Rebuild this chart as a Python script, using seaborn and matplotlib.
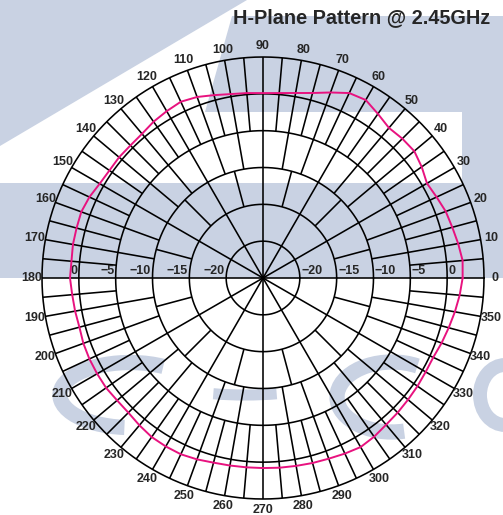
import numpy as np
import pandas as pd
import matplotlib
matplotlib.use('Agg')
import matplotlib.pyplot as plt
import seaborn as sns
from matplotlib.patches import Polygon, Arc

# H-plane pattern @ 2.45 GHz, gain in dB read every 5 degrees
ANGLES = list(range(0, 360, 5))
GAIN_DB = [2.1, 2.2, 1.9, 1.6, 1.4, 1.0, 0.7, 1.3, 1.8, 1.75, 1.6, 2.2,    # 0-55
           2.9, 2.7, 1.8, 1.0, 0.5, 0.2, 0.1, 0.2, 0.35, 0.7, 1.15, 1.4,   # 60-115
           1.15, 0.9, 0.55, 0.45, 0.5, 0.45, 0.6, 1.0, 1.25, 1.2, 1.2, 1.1,  # 120-175
           1.2, 1.0, 0.9, 0.8, 0.95, 1.0, 1.0, 1.0, 0.85, 0.85, 1.1, 1.35,  # 180-235
           1.4, 1.4, 1.2, 0.95, 0.85, 0.8, 0.8, 0.85, 0.9, 1.0, 1.1, 1.3,   # 240-295
           1.5, 1.3, 1.0, 0.85, 0.7, 0.6, 0.5, 0.5, 0.8, 1.1, 1.45, 1.8]    # 300-355

RING_DB = [-20, -15, -10, -5, 0, 5]
RING_LABELS = ['\u221220', '\u221215', '\u221210', '\u22125', '0']
ANGLE_TICKS = list(range(0, 360, 10))
TITLE = 'H-Plane Pattern @ 2.45GHz'

# (inner dB, outer dB, spoke step in degrees)
SPOKE_BANDS = [(-25, -15, 30), (-15, -10, 15), (-10, -5, 10), (-5, 5, 5)]

R_MIN, R_MAX = -25, 5
W, H = 503, 515
CX, CY, RAD = 263, 278, 221
BLUE = '#c9d2e3'
PINK = '#e8127f'
LW = 1.15

sns.set_style('white')
plt.rcParams['font.family'] = ['Liberation Sans', 'DejaVu Sans']


def px(x, y):
    return (x / W, 1 - y / H)


def draw_watermark(fig):
    """light blue logo shapes behind the chart"""
    polys = [
        [(0, 0), (247, 0), (0, 146)],
        [(232, 16), (503, 16), (503, 183), (462, 183), (462, 112), (205, 112)],
        [(0, 183), (503, 183), (503, 278), (0, 278)],
    ]
    for pts in polys:
        fig.patches.append(Polygon([px(*p) for p in pts], closed=True, transform=fig.transFigure,
                                   facecolor=BLUE, edgecolor='none', zorder=-1))
    arcs = [((130, 395), 140, 65, 40, 260, 11), ((392, 397), 110, 70, 50, 290, 11),
            ((245, 388), 110, 14, 190, 350, 8), ((505, 395), 50, 60, 90, 270, 10)]
    for (x, y), w, h, t1, t2, lw in arcs:
        fig.patches.append(Arc(px(x, y), w / W, h / H, theta1=t1, theta2=t2,
                               transform=fig.transFigure, color=BLUE, lw=lw, zorder=-1))


fig = plt.figure(figsize=(W / 100, H / 100), dpi=100)
fig.patch.set_facecolor('white')
draw_watermark(fig)

ax = fig.add_axes([(CX - RAD) / W, (H - CY - RAD) / H, 2 * RAD / W, 2 * RAD / H], projection='polar')
ax.patch.set_alpha(0)
ax.set_ylim(R_MIN, R_MAX)
ax.grid(False)
ax.spines['polar'].set_visible(False)

# rings
theta = np.linspace(0, 2 * np.pi, 721)
for r in RING_DB:
    ax.plot(theta, np.full_like(theta, r), color='black', lw=LW, clip_on=False)

# spokes
for r0, r1, step in SPOKE_BANDS:
    for a in range(0, 360, step):
        t = np.deg2rad(a)
        ax.plot([t, t], [r0, r1], color='black', lw=LW, solid_capstyle='butt', clip_on=False)

# pattern
df = pd.DataFrame({'theta': np.deg2rad(ANGLES + [ANGLES[0]]), 'gain': GAIN_DB + [GAIN_DB[0]]})
sns.lineplot(data=df, x='theta', y='gain', sort=False, estimator=None, ax=ax,
             color=PINK, lw=1.4, zorder=5)
ax.set_xlabel('')
ax.set_ylabel('')
ax.set_xticks([])
ax.set_yticks([])
ax.set_ylim(R_MIN, R_MAX)

# angle labels
for a in ANGLE_TICKS:
    ax.text(np.deg2rad(a), 6.45, str(a), ha='center', va='center', fontsize=9,
            fontweight='bold', clip_on=False)

# radial labels along the 0-180 line
for r, lab in zip(RING_DB[:-1], RING_LABELS):
    ax.annotate(lab, (np.pi, r), xytext=(-1, 1), textcoords='offset points',
                ha='right', va='bottom', fontsize=9, fontweight='bold')
    ax.annotate(lab, (0, r), xytext=(1, 1), textcoords='offset points',
                ha='left', va='bottom', fontsize=9, fontweight='bold')

fig.text(490 / W, 1 - 18 / H, TITLE, ha='right', va='center', fontsize=14.3, fontweight='bold')

fig.savefig('out.png', dpi=100)
